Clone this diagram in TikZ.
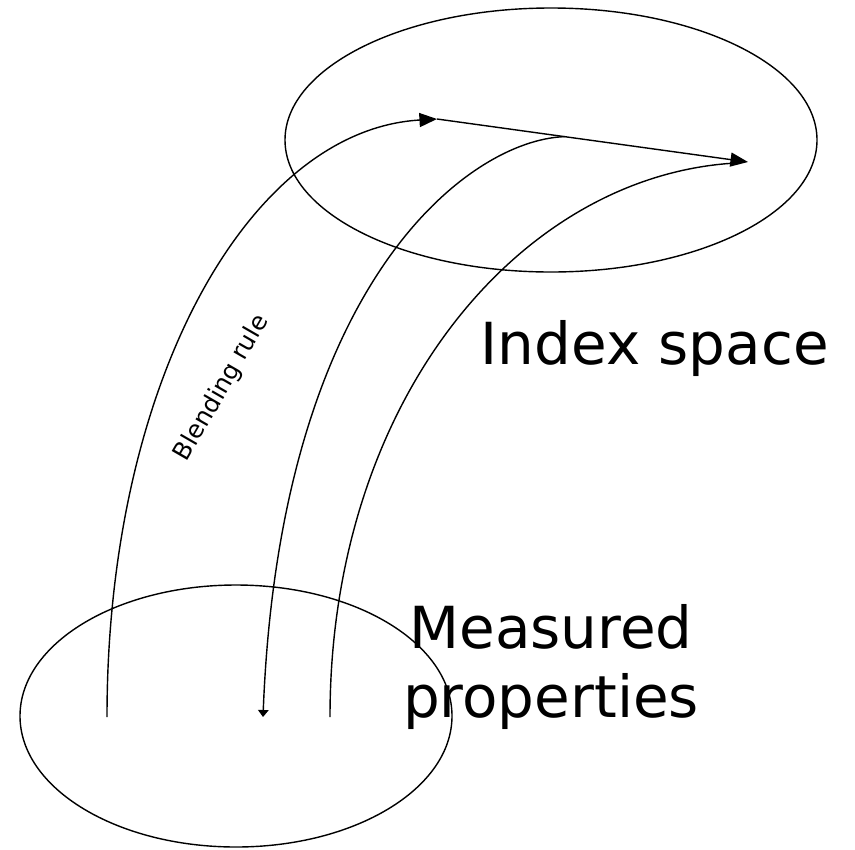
\documentclass[tikz,border=0pt]{standalone}
\usepackage{fontspec}
\setmainfont{DejaVu Sans}
\usetikzlibrary{arrows.meta}
\usetikzlibrary{positioning}
\usetikzlibrary{calc}

\begin{document}
\begin{tikzpicture}[x=0.02cm, y=-0.02cm, line width=0.8pt,
    every node/.style={inner sep=0pt},
    bigtip/.style={-{Triangle[length=10pt, width=8pt]}},
    smalltip/.style={-{Triangle[length=4pt, width=6pt]}},
    bigtext/.style={font=\fontsize{33}{40}\selectfont, anchor=base}]

      \useasboundingbox (0,0) rectangle (855,849);

      % the two spaces
      \coordinate (idx) at (551, 140);
      \coordinate (meas) at (236, 716);
      \draw (idx) ellipse (266 and 132);
      \draw (meas) ellipse (216 and 131);

      % feet of the three curves in the lower ellipse
      \coordinate (b1) at (107, 717);
      \coordinate (b2) at (263, 717);
      \coordinate (b3) at (330, 717);

      % points in the upper ellipse
      \coordinate (t1) at (437, 119);
      \coordinate (t2) at (748, 162);
      \coordinate (t3) at (736, 163);
      \coordinate (m1) at ($(t1)!0.41!(t2)$);

      \draw[bigtip] (b1) .. controls (107, 380) and (250, 130) .. (t1);
      \draw[bigtip] (t1) -- (t2);
      \draw[smalltip] (m1) .. controls (470, 140) and (280, 280) .. (b2);
      \draw (b3) .. controls (330, 400) and (520, 175) .. (t3);

      \node[rotate=60, font=\fontsize{14}{16}\selectfont] (rule) at (222, 388) {Blending rule};

      \node[bigtext, anchor=base west] (idxlab) at (480, 364) {Index space};
      \node[bigtext] (measlab) at (551, 648) {Measured};
      \node[bigtext] (proplab) at (551, 717) {properties};
    \end{tikzpicture}
\end{document}
